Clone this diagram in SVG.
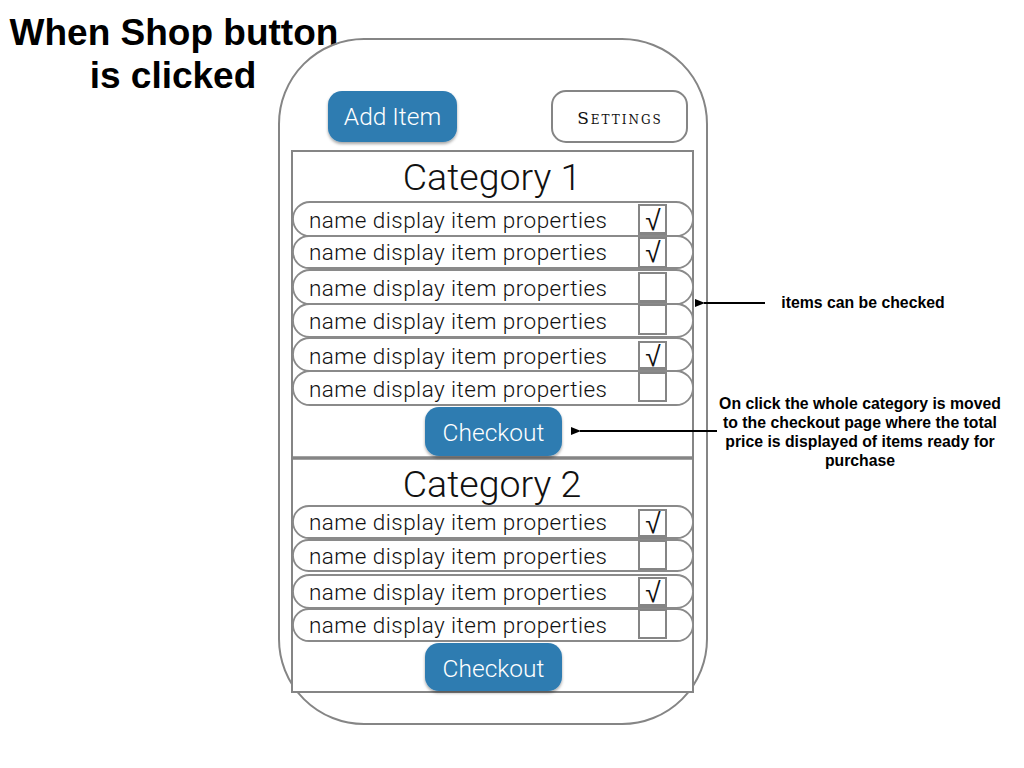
<svg xmlns="http://www.w3.org/2000/svg" width="1024" height="768" viewBox="0 0 1024 768">
<style>
.outline{fill:none;stroke:#858585;stroke-width:2}
.box{fill:#fff;stroke:#858585;stroke-width:2}
.row{fill:#fff;stroke:#8a8a8a;stroke-width:1.8}
.chk{fill:none;stroke:#858585;stroke-width:2}
.bar{fill:#858585}
.btn{fill:#2f7cb1}
.btnt{font-family:Roboto,"Liberation Sans",sans-serif;font-weight:300;font-size:24.5px;fill:#fff;text-anchor:middle}
.item{font-family:Roboto,"Liberation Sans",sans-serif;font-weight:300;font-size:22.5px;fill:#111}
.cat{font-family:Roboto,"Liberation Sans",sans-serif;font-weight:300;font-size:37.5px;fill:#111;text-anchor:middle}
.tick{font-family:"DejaVu Sans",sans-serif;font-weight:200;font-size:28px;fill:#111;text-anchor:middle}
.title{font-family:"Liberation Sans",Arial,sans-serif;font-weight:bold;font-size:37px;fill:#000;text-anchor:middle}
.note{font-family:"Liberation Sans",Arial,sans-serif;font-weight:bold;font-size:15.8px;fill:#000;text-anchor:middle}
.conn{stroke:#000;stroke-width:2;fill:none}
</style>
<defs>
<marker id="ah" markerWidth="10" markerHeight="8" refX="1" refY="4" orient="auto-start-reverse" markerUnits="userSpaceOnUse">
<path d="M0,4 L10,0 L10,8 Z" fill="#000"/>
</marker>
<filter id="sh" x="-10%" y="-10%" width="120%" height="130%">
<feDropShadow dx="0" dy="2" stdDeviation="1.5" flood-color="#000" flood-opacity="0.35"/>
</filter>
</defs>
<rect width="1024" height="768" fill="#fff"/>

<g id="title">
<text class="title" x="174" y="45">When Shop button</text>
<text class="title" x="173" y="88">is clicked</text>
</g>

<g id="phone">
<rect class="outline" x="279" y="39" width="428" height="685" rx="85" ry="85"/>
</g>

<g id="add-item">
<rect class="btn" x="328" y="91" width="129" height="51" rx="14" filter="url(#sh)"/>
<text class="btnt" x="392.5" y="125">Add Item</text>
</g>

<g id="settings">
<rect class="box" x="552" y="91" width="135" height="51" rx="14"/>
<text x="620" y="124" text-anchor="middle" font-family="'DejaVu Serif',serif" font-size="17" font-variant="small-caps" letter-spacing="2" fill="#111">Settings</text>
</g>

<g id="category1">
<rect class="box" x="292" y="151" width="401" height="307"/>
<text class="cat" x="492" y="190">Category 1</text>
</g>

<g id="category2">
<rect class="box" x="292" y="458" width="401" height="234"/>
<line x1="292" y1="458" x2="693" y2="458" stroke="#858585" stroke-width="3.5"/>
<text class="cat" x="492" y="497">Category 2</text>
</g>

<g id="c1-row1">
<rect class="row" x="293" y="202" width="400" height="34" rx="17"/>
<text class="item" x="309" y="228" textLength="298">name display item properties</text>
<rect class="chk" x="639" y="205" width="27" height="31"/>
<rect class="bar" x="639" y="232" width="27" height="4"/>
<text class="tick" x="653" y="230">√</text>
</g>
<g id="c1-row2">
<rect class="row" x="293" y="236" width="400" height="32" rx="16"/>
<text class="item" x="309" y="260" textLength="298">name display item properties</text>
<rect class="chk" x="639" y="238" width="27" height="29"/>
<text class="tick" x="653" y="262">√</text>
</g>
<g id="c1-row3">
<rect class="row" x="293" y="270" width="400" height="34" rx="17"/>
<text class="item" x="309" y="296" textLength="298">name display item properties</text>
<rect class="chk" x="639" y="273" width="27" height="31"/>
<rect class="bar" x="639" y="300" width="27" height="5"/>
</g>
<g id="c1-row4">
<rect class="row" x="293" y="304" width="400" height="33" rx="16.5"/>
<text class="item" x="309" y="329" textLength="298">name display item properties</text>
<rect class="chk" x="639" y="305" width="27" height="29"/>
</g>
<g id="c1-row5">
<rect class="row" x="293" y="338" width="400" height="33" rx="16.5"/>
<text class="item" x="309" y="364" textLength="298">name display item properties</text>
<rect class="chk" x="639" y="342" width="27" height="29"/>
<rect class="bar" x="639" y="367" width="27" height="5"/>
<text class="tick" x="653" y="366">√</text>
</g>
<g id="c1-row6">
<rect class="row" x="293" y="371" width="400" height="34" rx="17"/>
<text class="item" x="309" y="397" textLength="298">name display item properties</text>
<rect class="chk" x="639" y="373" width="27" height="28"/>
</g>

<g id="checkout1">
<rect class="btn" x="425" y="407" width="137" height="49" rx="14" filter="url(#sh)"/>
<text class="btnt" x="493.5" y="441">Checkout</text>
</g>

<g id="c2-row1">
<rect class="row" x="293" y="506" width="400" height="32" rx="16"/>
<text class="item" x="309" y="530" textLength="298">name display item properties</text>
<rect class="chk" x="639" y="510" width="27" height="29"/>
<rect class="bar" x="639" y="535" width="27" height="5"/>
<text class="tick" x="653" y="533">√</text>
</g>
<g id="c2-row2">
<rect class="row" x="293" y="540" width="400" height="31" rx="15.5"/>
<text class="item" x="309" y="564" textLength="298">name display item properties</text>
<rect class="chk" x="639" y="541" width="27" height="28"/>
</g>
<g id="c2-row3">
<rect class="row" x="293" y="575" width="400" height="33" rx="16.5"/>
<text class="item" x="309" y="600" textLength="298">name display item properties</text>
<rect class="chk" x="639" y="578" width="27" height="30"/>
<rect class="bar" x="639" y="604" width="27" height="5"/>
<text class="tick" x="653" y="602">√</text>
</g>
<g id="c2-row4">
<rect class="row" x="293" y="609" width="400" height="32" rx="16"/>
<text class="item" x="309" y="633" textLength="298">name display item properties</text>
<rect class="chk" x="639" y="610" width="27" height="28"/>
</g>

<g id="checkout2">
<rect class="btn" x="425" y="643" width="137" height="48" rx="14" filter="url(#sh)"/>
<text class="btnt" x="493.5" y="677">Checkout</text>
</g>

<g id="note1">
<text class="note" x="863" y="308">items can be checked</text>
</g>
<g id="note2">
<text class="note" x="860" y="409">On click the whole category is moved</text>
<text class="note" x="860" y="428">to the checkout page where the total</text>
<text class="note" x="860" y="447">price is displayed of items ready for</text>
<text class="note" x="860" y="466">purchase</text>
</g>

<g id="connectors">
<line class="conn" x1="765" y1="303" x2="704" y2="303" marker-end="url(#ah)"/>
<line class="conn" x1="717" y1="431" x2="580" y2="431" marker-end="url(#ah)"/>
</g>
</svg>
